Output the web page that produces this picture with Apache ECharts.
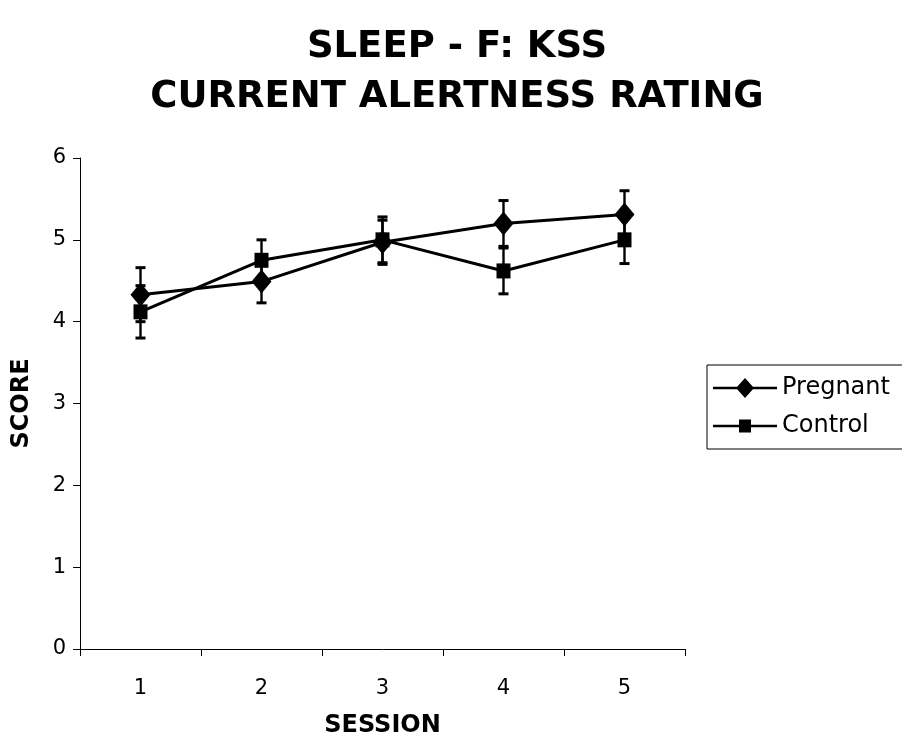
<!DOCTYPE html>
<html>
<head>
<meta charset="utf-8">
<script src="https://cdn.jsdelivr.net/npm/echarts@6/dist/echarts.min.js"></script>
<style>
  html, body { margin: 0; padding: 0; background: #fff; }
  #chart { width: 902px; height: 746px; }
</style>
</head>
<body>
<div id="chart"></div>
<script>
// KSS current alertness rating per session, mean ± error
const sessions = ['1', '2', '3', '4', '5'];
const pregnantMean = [4.33, 4.49, 4.97, 5.20, 5.31];
const pregnantErr  = [0.33, 0.26, 0.27, 0.28, 0.29];
const controlMean  = [4.12, 4.75, 5.00, 4.62, 5.00];
const controlErr   = [0.32, 0.25, 0.28, 0.28, 0.29];
const yTicks = [0, 1, 2, 3, 4, 5, 6];

const FONT = 'DejaVu Sans';

// Legend keys: a line with the series marker in its middle (64 x 22 box)
const BOX = 'M0 0 L0 0 Z M64 22 L64 22 Z ';
const LINE = 'M0 9.7 L64 9.7 L64 12.3 L0 12.3 Z ';
const ICON_DIAMOND = 'path://' + BOX + LINE + 'M32 1 L41 11 L32 21 L23 11 Z';
const ICON_SQUARE = 'path://' + BOX + LINE + 'M26 4.5 L38 4.5 L38 17.5 L26 17.5 Z';

function errorSeries(name, means, errs) {
  return {
    name: name + ' error',
    type: 'custom',
    z: 1,
    data: means.map((m, i) => [i, m - errs[i], m + errs[i]]),
    renderItem: function (params, api) {
      const x = api.value(0);
      const lo = api.coord([x, api.value(1)]);
      const hi = api.coord([x, api.value(2)]);
      const cap = 5;
      return {
        type: 'group',
        children: [
          { type: 'line', shape: { x1: lo[0], y1: lo[1], x2: hi[0], y2: hi[1] }, style: { stroke: '#000', lineWidth: 2.4 } },
          { type: 'line', shape: { x1: lo[0] - cap, y1: lo[1], x2: lo[0] + cap, y2: lo[1] }, style: { stroke: '#000', lineWidth: 3 } },
          { type: 'line', shape: { x1: hi[0] - cap, y1: hi[1], x2: hi[0] + cap, y2: hi[1] }, style: { stroke: '#000', lineWidth: 3 } }
        ]
      };
    }
  };
}

const chart = echarts.init(document.getElementById('chart'), null, { renderer: 'canvas' });
chart.setOption({
  animation: false,
  backgroundColor: '#fff',
  textStyle: { fontFamily: FONT, color: '#000' },
  title: {
    text: 'SLEEP - F: KSS\nCURRENT ALERTNESS RATING',
    left: 452,
    top: 17,
    textAlign: 'center',
    textStyle: { fontFamily: FONT, fontSize: 37, fontWeight: 'bold', color: '#000', lineHeight: 50 }
  },
  grid: { left: 80, right: 217, top: 158, bottom: 97 },
  legend: {
    data: [
      { name: 'Pregnant', icon: ICON_DIAMOND },
      { name: 'Control', icon: ICON_SQUARE }
    ],
    orient: 'vertical',
    left: 707,
    top: 365,
    padding: [11, 40, 11, 6],
    itemGap: 14,
    itemWidth: 64,
    itemHeight: 22,
    borderColor: '#000',
    borderWidth: 1,
    itemStyle: { color: '#000' },
    textStyle: { fontFamily: FONT, fontSize: 24, color: '#000' }
  },
  xAxis: {
    type: 'category',
    data: sessions,
    boundaryGap: true,
    name: 'SESSION',
    nameLocation: 'middle',
    nameGap: 65,
    nameTextStyle: { fontFamily: FONT, fontSize: 24, fontWeight: 'bold', color: '#000' },
    axisLine: { lineStyle: { color: '#000', width: 1 } },
    axisTick: { show: true, length: 7, lineStyle: { color: '#000' } },
    axisLabel: { fontFamily: FONT, fontSize: 21, color: '#000', margin: 29 },
    splitLine: { show: false }
  },
  yAxis: {
    type: 'value',
    min: yTicks[0],
    max: yTicks[yTicks.length - 1],
    interval: 1,
    name: 'SCORE',
    nameLocation: 'middle',
    nameGap: 46,
    nameRotate: 90,
    nameTextStyle: { fontFamily: FONT, fontSize: 24, fontWeight: 'bold', color: '#000' },
    axisLine: { show: true, lineStyle: { color: '#000', width: 1 } },
    axisTick: { show: true, length: 7, lineStyle: { color: '#000' } },
    axisLabel: { fontFamily: FONT, fontSize: 21, color: '#000', margin: 14 },
    splitLine: { show: false }
  },
  series: [
    errorSeries('Pregnant', pregnantMean, pregnantErr),
    errorSeries('Control', controlMean, controlErr),
    {
      name: 'Pregnant',
      type: 'line',
      z: 3,
      data: pregnantMean,
      symbol: 'diamond',
      symbolSize: [20, 24],
      lineStyle: { color: '#000', width: 3 },
      itemStyle: { color: '#000' }
    },
    {
      name: 'Control',
      type: 'line',
      z: 3,
      data: controlMean,
      symbol: 'rect',
      symbolSize: [14, 15],
      lineStyle: { color: '#000', width: 3 },
      itemStyle: { color: '#000' }
    }
  ]
});
</script>
</body>
</html>
